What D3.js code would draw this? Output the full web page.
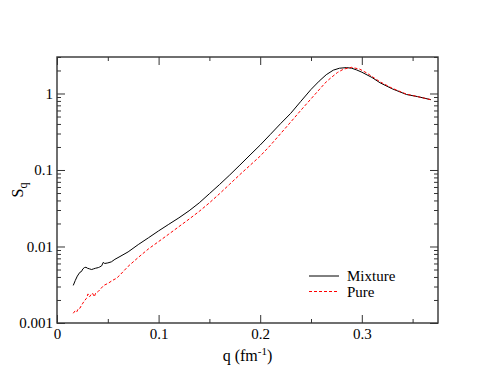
<!DOCTYPE html>
<html>
<head>
<meta charset="utf-8">
<script src="https://cdn.jsdelivr.net/npm/d3@7"></script>
</head>
<body style="margin:0">
<svg id="chart" width="493" height="381"></svg>
<script>
// ---- data ----
const mixtureQ = [0.016,0.018,0.020,0.0225,0.024,0.0255,0.027,0.0285,0.030,0.032,0.0341,0.036,0.038,0.0407,0.042,0.044,0.0455,0.047,0.050,0.0535,0.057,0.062,0.07,0.08,0.09,0.10,0.11,0.12,0.13,0.14,0.15,0.16,0.17,0.18,0.19,0.20,0.21,0.22,0.23,0.24,0.25,0.258,0.265,0.272,0.278,0.285,0.29,0.295,0.30,0.31,0.318,0.33,0.344,0.355,0.368];
const mixtureS = [0.0031,0.0036,0.0041,0.0046,0.0047,0.0051,0.0053,0.00535,0.0052,0.0051,0.0050,0.0051,0.0052,0.0053,0.0054,0.0056,0.0062,0.0060,0.0061,0.0063,0.0068,0.0074,0.0085,0.0106,0.0130,0.0160,0.0195,0.0237,0.0293,0.0372,0.0490,0.0646,0.0861,0.116,0.157,0.212,0.292,0.403,0.55,0.79,1.13,1.45,1.76,2.02,2.14,2.18,2.14,2.03,1.90,1.62,1.38,1.15,0.97,0.91,0.83];

const pureQ = [0.016,0.018,0.0195,0.021,0.0226,0.024,0.0255,0.027,0.029,0.0305,0.032,0.0335,0.035,0.0367,0.038,0.0407,0.043,0.046,0.0505,0.0545,0.0587,0.062,0.07,0.08,0.09,0.10,0.11,0.12,0.13,0.14,0.15,0.16,0.17,0.18,0.19,0.20,0.21,0.22,0.23,0.24,0.25,0.26,0.265,0.27,0.276,0.282,0.29,0.298,0.305,0.318,0.33,0.344,0.355,0.368];
const pureS = [0.00134,0.00145,0.00140,0.00155,0.00156,0.00170,0.00182,0.00195,0.00210,0.0024,0.0022,0.00235,0.00245,0.0022,0.00245,0.00259,0.0028,0.0031,0.00331,0.0036,0.00385,0.00425,0.0055,0.0072,0.0093,0.0116,0.0145,0.0182,0.0228,0.0288,0.0372,0.0490,0.0653,0.0871,0.115,0.152,0.210,0.298,0.423,0.603,0.851,1.20,1.42,1.62,1.88,2.08,2.20,2.08,1.85,1.42,1.17,0.98,0.91,0.83];

const xTicks = [0, 0.1, 0.2, 0.3];
const xMinorTicks = [0.05, 0.15, 0.25, 0.35];
const yTicks = [0.001, 0.01, 0.1, 1];
const yTickLabels = ["0.001", "0.01", "0.1", "1"];
const seriesNames = ["Mixture", "Pure"];

// ---- layout ----
const FONT = "Liberation Serif";
const L = 57, R = 438, T = 57, B = 323;
const svg = d3.select("#chart");
const x = d3.scaleLinear().domain([0, 0.375]).range([L, R]);
const y = d3.scaleLog().domain([0.001, 3]).range([B, T]);

const yMinor = [];
[0.001, 0.01, 0.1, 1].forEach(d => { for (let k = 2; k <= 9; k++) { const v = d * k; if (v <= 3) yMinor.push(v); } });

function styleAxis(g) {
  g.select(".domain").remove();
  g.selectAll("line").attr("stroke", "#333").attr("stroke-width", 1);
  g.selectAll("text").attr("font-size", 15).attr("fill", "#000").attr("font-family", FONT);
}

function addAxis(axis, tx, ty) {
  svg.append("g").attr("transform", `translate(${tx},${ty})`).call(axis).call(styleAxis);
}

addAxis(d3.axisBottom(x).tickValues(xTicks).tickFormat(d3.format("")).tickSizeInner(-8).tickSizeOuter(0).tickPadding(5), 0, B);
addAxis(d3.axisBottom(x).tickValues(xMinorTicks).tickFormat("").tickSizeInner(-4).tickSizeOuter(0), 0, B);
addAxis(d3.axisTop(x).tickValues(xTicks).tickFormat("").tickSizeInner(-8).tickSizeOuter(0), 0, T);
addAxis(d3.axisTop(x).tickValues(xMinorTicks).tickFormat("").tickSizeInner(-4).tickSizeOuter(0), 0, T);
addAxis(d3.axisLeft(y).tickValues(yTicks).tickFormat((d, i) => yTickLabels[i]).tickSizeInner(-8).tickSizeOuter(0).tickPadding(4), L, 0);
addAxis(d3.axisLeft(y).tickValues(yMinor).tickFormat("").tickSizeInner(-4).tickSizeOuter(0), L, 0);
addAxis(d3.axisRight(y).tickValues(yTicks).tickFormat("").tickSizeInner(-8).tickSizeOuter(0), R, 0);
addAxis(d3.axisRight(y).tickValues(yMinor).tickFormat("").tickSizeInner(-4).tickSizeOuter(0), R, 0);

// frame
svg.append("rect").attr("x", L).attr("y", T).attr("width", R - L).attr("height", B - T)
  .attr("fill", "none").attr("stroke", "#333").attr("stroke-width", 1.4);

// lines
const line = d3.line().x(d => x(d[0])).y(d => y(d[1]));
const mix = mixtureQ.map((q, i) => [q, mixtureS[i]]);
const pure = pureQ.map((q, i) => [q, pureS[i]]);
svg.append("path").datum(mix).attr("d", line).attr("fill", "none")
  .attr("stroke", "#000").attr("stroke-width", 1);
svg.append("path").datum(pure).attr("d", line).attr("fill", "none")
  .attr("stroke", "#ff0000").attr("stroke-width", 1).attr("stroke-dasharray", "3,2");

// axis titles
const xt = svg.append("text").attr("x", (L + R) / 2).attr("y", 361).attr("text-anchor", "middle")
  .attr("font-size", 16).attr("font-family", FONT);
xt.append("tspan").attr("font-family", FONT).text("q (fm");
xt.append("tspan").attr("font-family", FONT).attr("dy", -6).attr("font-size", 11).text("-1");
xt.append("tspan").attr("font-family", FONT).attr("dy", 6).text(")");

const yt = svg.append("text").attr("transform", `translate(23,${(T + B) / 2}) rotate(-90)`)
  .attr("text-anchor", "middle").attr("font-size", 16).attr("font-family", FONT);
yt.append("tspan").attr("font-family", FONT).text("S");
yt.append("tspan").attr("font-family", FONT).attr("dy", 4).attr("font-size", 12).text("q");

// legend
seriesNames.forEach((name, i) => {
  const ly = 276 + i * 15.5;
  svg.append("line").attr("x1", 309).attr("x2", 339).attr("y1", ly).attr("y2", ly)
    .attr("stroke", i === 0 ? "#000" : "#ff0000").attr("stroke-width", 1)
    .attr("stroke-dasharray", i === 0 ? null : "3,2");
  svg.append("text").attr("x", 347).attr("y", ly + 5).attr("font-size", 15)
    .attr("font-family", FONT).text(name);
});
</script>
</body>
</html>
